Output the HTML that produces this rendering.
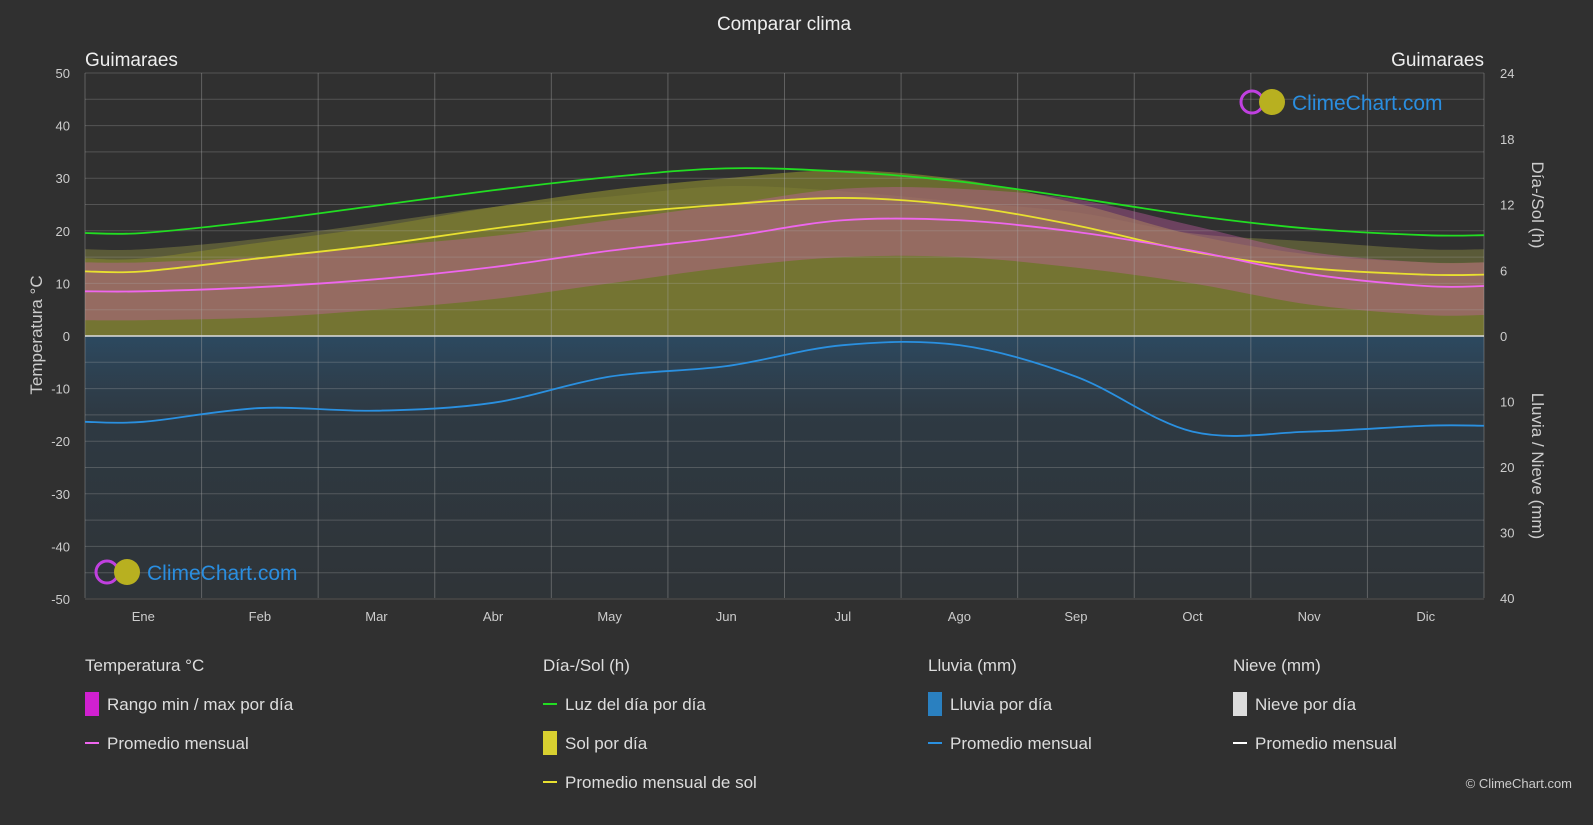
<!DOCTYPE html>
<html><head><meta charset="utf-8">
<style>
body{margin:0;background:#303030;font-family:"Liberation Sans",sans-serif;color:#ddd;}
#wrap{position:relative;width:1593px;height:825px;overflow:hidden;}
svg text{font-family:"Liberation Sans",sans-serif;}
</style></head>
<body>
<div id="wrap">
<svg id="chart" width="1593" height="825" xmlns="http://www.w3.org/2000/svg"></svg>
</div>
<script>
const months=["Ene","Feb","Mar","Abr","May","Jun","Jul","Ago","Sep","Oct","Nov","Dic"];
const daylight=[9.4,10.5,11.9,13.3,14.5,15.3,15.0,14.1,12.6,11.0,9.8,9.2];
const sunAvg=[5.9,7.1,8.3,9.8,11.1,12.0,12.6,11.9,10.1,7.7,6.2,5.6];
const tempAvg=[8.5,9.3,10.8,13.1,16.2,18.8,22.0,22.0,19.8,16.2,11.8,9.5];
const tempMax=[14,15,17,19,22,25,28,28,26,21,16,14];
const tempMin=[3,3.5,5,7,10,13,15,15,13,10,6,4];
const sunTop=[16.5,18.5,21.5,24.5,26.5,28.5,27.5,25.5,23.5,19.5,18,16.5];
const rainAvg=[13.1,11.0,11.4,10.2,6.2,4.6,1.4,1.4,6.2,14.6,14.6,13.7];
const tempTicks=[50,40,30,20,10,0,-10,-20,-30,-40,-50];
const hourTicks=[24,18,12,6,0];
const rainTicks=[0,10,20,30,40];

const svg=document.getElementById('chart');
const NS="http://www.w3.org/2000/svg";
const X0=85,X1=1484,Y50=73,Y0=336,YB=598;
const yT=t=>Y0-(t/50)*(Y0-Y50);
const yH=h=>Y0-h*(Y0-Y50)/24;
const yR=r=>Y0+r*(YB-Y0)/40;
const mw=(X1-X0)/12;
const xM=i=>X0+mw*(i+0.5);
function el(tag,attrs,parent){const e=document.createElementNS(NS,tag);for(const k in attrs)e.setAttribute(k,attrs[k]);(parent||svg).appendChild(e);return e;}
function txt(s,attrs){const e=el('text',attrs);e.textContent=s;return e;}
function pts(arr,fy){const p=[[X0,fy(arr[0])]];arr.forEach((v,i)=>p.push([xM(i),fy(v)]));p.push([X1,fy(arr[11])]);return p;}
function smooth(p){let d=`M${p[0][0]},${p[0][1]}`;for(let i=0;i<p.length-1;i++){const p0=p[Math.max(0,i-1)],p1=p[i],p2=p[i+1],p3=p[Math.min(p.length-1,i+2)];const c1=[p1[0]+(p2[0]-p0[0])/6,p1[1]+(p2[1]-p0[1])/6],c2=[p2[0]-(p3[0]-p1[0])/6,p2[1]-(p3[1]-p1[1])/6];d+=` C${c1[0]},${c1[1]} ${c2[0]},${c2[1]} ${p2[0]},${p2[1]}`;}return d;}

const defs=el('defs',{});
const g1=el('linearGradient',{id:'rainG',x1:0,y1:0,x2:0,y2:1},defs);
el('stop',{offset:'0','stop-color':'#2a5a80','stop-opacity':'0.6'},g1);
el('stop',{offset:'0.3','stop-color':'#2a5070','stop-opacity':'0.3'},g1);
el('stop',{offset:'1','stop-color':'#2a4a64','stop-opacity':'0.15'},g1);

const rb=el('rect',{x:X0,y:Y0,width:X1-X0,height:YB-Y0,fill:'url(#rainG)'});


const a1=el('path',{d:smooth(pts(sunTop,yT))+` L${X1},${Y0} L${X0},${Y0} Z`,fill:'#62623a',opacity:0.85});

const a2=el('path',{d:smooth(pts(sunAvg.map(v=>v*1.2),yH))+` L${X1},${Y0} L${X0},${Y0} Z`,fill:'#7e7e30',opacity:0.75});

const up=pts(tempMax,yT),lo=pts(tempMin,yT).reverse();
const a3=el('path',{d:smooth(up)+' L'+smooth(lo).slice(1)+' Z',fill:'#c860a8',opacity:0.4});


for(let t=-50;t<=50;t+=5){if(t===0)continue;const l=el('line',{x1:X0,x2:X1,y1:yT(t),y2:yT(t),stroke:'#aaa','stroke-opacity':0.3,'stroke-width':1});}
for(let i=0;i<=12;i++){const x=X0+mw*i;const l=el('line',{x1:x,x2:x,y1:Y50,y2:YB,stroke:'#aaa','stroke-opacity':0.4,'stroke-width':1});}
const zl=el('line',{x1:X0,x2:X1,y1:Y0,y2:Y0,stroke:'#ddd','stroke-width':1.5});

const ld=el('path',{d:smooth(pts(daylight,yH)),fill:'none',stroke:'#22dd22','stroke-width':1.8});
const ls=el('path',{d:smooth(pts(sunAvg,yH)),fill:'none',stroke:'#e8e030','stroke-width':1.8});
const lt=el('path',{d:smooth(pts(tempAvg,yT)),fill:'none',stroke:'#ee66ee','stroke-width':1.8});
const lr=el('path',{d:smooth(pts(rainAvg,yR)),fill:'none',stroke:'#2a90e0','stroke-width':1.8});

tempTicks.forEach(t=>{const e=txt(String(t),{x:70,y:yT(t)+5,'text-anchor':'end','font-size':13,fill:'#ccc'});});
hourTicks.forEach(h=>{const e=txt(String(h),{x:1500,y:yH(h)+5,'font-size':13,fill:'#ccc'});});
rainTicks.forEach(r=>{if(r===0)return;const e=txt(String(r),{x:1500,y:yR(r)+5,'font-size':13,fill:'#ccc'});});
months.forEach((m,i)=>{const e=txt(m,{x:xM(i),y:621,'text-anchor':'middle','font-size':13,fill:'#ccc'});});

let e;
e=txt('Comparar clima',{x:784,y:30,'text-anchor':'middle','font-size':19,fill:'#eee'});
e=txt('Guimaraes',{x:85,y:66,'font-size':19,fill:'#eee'});
e=txt('Guimaraes',{x:1484,y:66,'text-anchor':'end','font-size':19,fill:'#eee'});
e=txt('Temperatura °C',{x:0,y:0,transform:'translate(42,335) rotate(-90)','text-anchor':'middle','font-size':17,fill:'#ccc'});
e=txt('Día-/Sol (h)',{x:0,y:0,transform:'translate(1532,205) rotate(90)','text-anchor':'middle','font-size':17,fill:'#ccc'});
e=txt('Lluvia / Nieve (mm)',{x:0,y:0,transform:'translate(1532,466) rotate(90)','text-anchor':'middle','font-size':17,fill:'#ccc'});

function logo(x,y,name){const g=el('g',{});
el('circle',{cx:x+12,cy:y,r:11,fill:'none',stroke:'#c040e0','stroke-width':3},g);
el('circle',{cx:x+32,cy:y,r:13,fill:'#b8b020'},g);
const t=el('text',{x:x+52,y:y+8,'font-size':21,fill:'#2a8ee0'},g);t.textContent='ClimeChart.com';}
logo(1240,102,'logo-top');logo(95,572,'logo-bottom');

const L=[
[85,'Temperatura °C',[['box','#d020d0','Rango min / max por día'],['line','#ee66ee','Promedio mensual']]],
[543,'Día-/Sol (h)',[['line','#22dd22','Luz del día por día'],['box','#d8d030','Sol por día'],['line','#e8e030','Promedio mensual de sol']]],
[928,'Lluvia (mm)',[['box','#2a80c0','Lluvia por día'],['line','#2a90e0','Promedio mensual']]],
[1233,'Nieve (mm)',[['box','#dddddd','Nieve por día'],['line','#ffffff','Promedio mensual']]]];
L.forEach(([x,h,items])=>{e=txt(h,{x:x,y:671,'font-size':17,fill:'#ddd'});
items.forEach(([k,c,lab],j)=>{const y=704+j*39;
if(k==='box'){const r=el('rect',{x:x,y:y-12,width:14,height:24,fill:c});}
else{const l=el('line',{x1:x,x2:x+14,y1:y,y2:y,stroke:c,'stroke-width':2});}
e=txt(lab,{x:x+22,y:y+6,'font-size':17,fill:'#ddd'});});});
e=txt('© ClimeChart.com',{x:1572,y:788,'text-anchor':'end','font-size':13,fill:'#ccc'});
</script>
</body></html>
